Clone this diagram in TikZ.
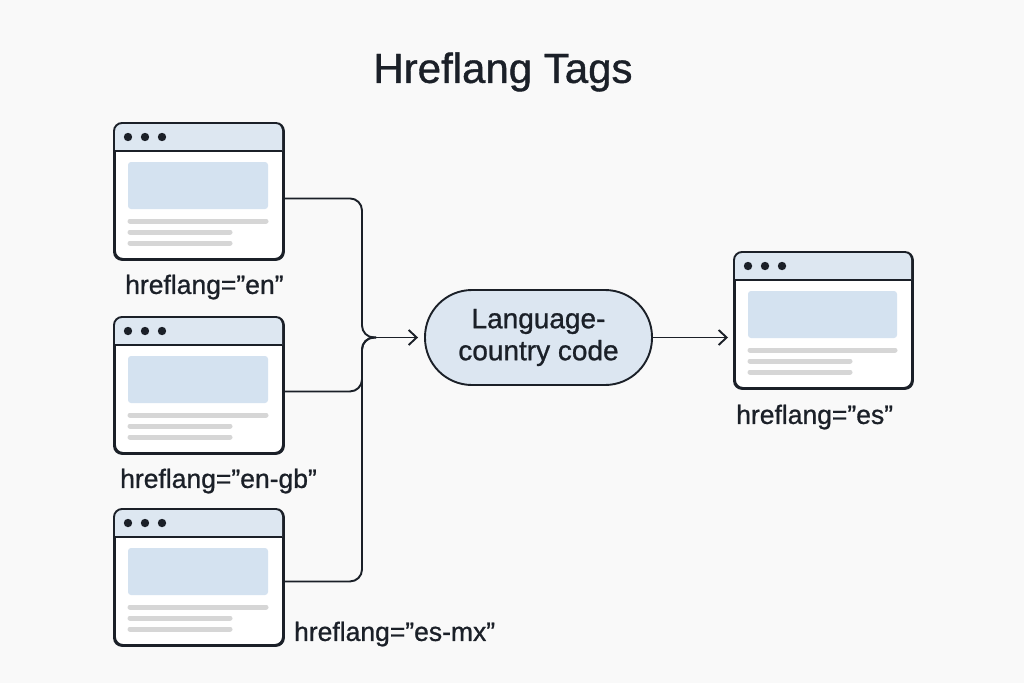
\documentclass[tikz,border=0pt]{standalone}
\usepackage{fontspec}
\setmainfont{Liberation Sans}
\newfontfamily\medfont[BoldFont={Liberation Sans}, BoldFeatures={FakeBold=0.9}]{Liberation Sans}
\usetikzlibrary{arrows.meta,positioning}

\definecolor{ink}{HTML}{1B2028}
\definecolor{barblue}{HTML}{DDE7F1}
\definecolor{boxblue}{HTML}{D4E2F0}
\definecolor{linegray}{HTML}{D6D6D6}
\definecolor{bgcol}{HTML}{F9F9F9}
\definecolor{pillblue}{HTML}{DCE6F1}

\tikzset{
  win/.style={draw=ink, fill=white, line width=1.9pt, rounded corners=8pt,
    minimum height=135pt, inner sep=0pt},
  tag/.style={font=\fontsize{26.5}{30}\medfont\bfseries, text=ink, inner sep=0pt},
  codebox/.style={draw=ink, fill=pillblue, line width=1.9pt, rounded corners=47pt,
    minimum width=227pt, minimum height=95pt, align=center,
    font=\fontsize{28}{32}\medfont\bfseries, text=ink},
  conn/.style={draw=ink, line width=1.9pt, rounded corners=12pt},
  arr/.style={draw=ink, line width=1.9pt, -{Straight Barb[length=8pt,width=15pt,line width=1.9pt]}},
}

% browser window: name, x, y, width
\newcommand{\pagewin}[4]{%
  \node[win, minimum width=#4pt, anchor=north west] (#1) at (#2,#3) {};
  \begin{scope}[shift={(#1.north west)}]
    \fill[barblue] (0,28) [rounded corners=8pt] -- (0,0) -- (#4,0) [sharp corners] -- (#4,28) -- cycle;
    \draw[ink, line width=1.6pt] (0,28) -- (#4,28);
    \foreach \dx in {14,31,48} \fill[ink] (\dx,14) circle (4.2pt);
    \fill[boxblue, rounded corners=3pt] (14,39) rectangle (#4-14,86);
    \draw[linegray, line width=5pt, line cap=round] (16,98) -- (#4-16,98);
    \draw[linegray, line width=5pt, line cap=round] (16,109) -- (116,109);
    \draw[linegray, line width=5pt, line cap=round] (16,120) -- (116,120);
  \end{scope}
  \draw[ink, line width=1.9pt, rounded corners=8pt] (#1.north west) rectangle (#1.south east);
}

\begin{document}
\begin{tikzpicture}[x=1pt, y=-1pt]
   % Canvas
   \fill[bgcol] (0,0) rectangle (1024,683);
   \useasboundingbox (0,0) rectangle (1024,683);
   % Title
   \node[font=\fontsize{42}{48}\medfont\bfseries, text=ink] (title) at (503,72) {Hreflang Tags};
   % Pages
   \pagewin{w1}{114}{123}{168}
   \pagewin{w2}{114}{317}{168}
   \pagewin{w3}{114}{509}{168}
   \pagewin{w4}{734}{252}{177}
   % Labels
   \node[tag, anchor=base west] (l1) at ([xshift=11pt, yshift=-34pt]w1.south west) {hreflang=”en”};
   \node[tag, anchor=base west] (l2) at ([xshift=6pt, yshift=-34pt]w2.south west) {hreflang=”en-gb”};
   \node[tag, anchor=base west] (l3) at ([xshift=10pt, yshift=5pt]w3.south east) {hreflang=”es-mx”};
   \node[tag, anchor=base west] (l4) at ([xshift=2pt, yshift=-35pt]w4.south west) {hreflang=”es”};
   % Code
   \node[codebox] (code) at (538.5,337.5) {Language-\\country code};
   % Connectors
   \coordinate (join) at (376,337.5);
   \coordinate (bus) at (362,337.5);
   \coordinate (o1) at ([yshift=-7pt]w1.east);
   \coordinate (o2) at ([yshift=-6pt]w2.east);
   \coordinate (o3) at ([yshift=-4pt]w3.east);
   \draw[conn] (o1) -- (bus |- o1) -- (bus) -- (join);
   \draw[conn] (o2) -- (bus |- o2) -- (bus) -- (join);
   \draw[conn] (o3) -- (bus |- o3) -- (bus) -- (join);
   \draw[arr] (join) -- ([xshift=-6pt]code.west);
   \draw[arr] (code.east) -- ([xshift=-6pt]code.east -| w4.west);
\end{tikzpicture}
\end{document}
